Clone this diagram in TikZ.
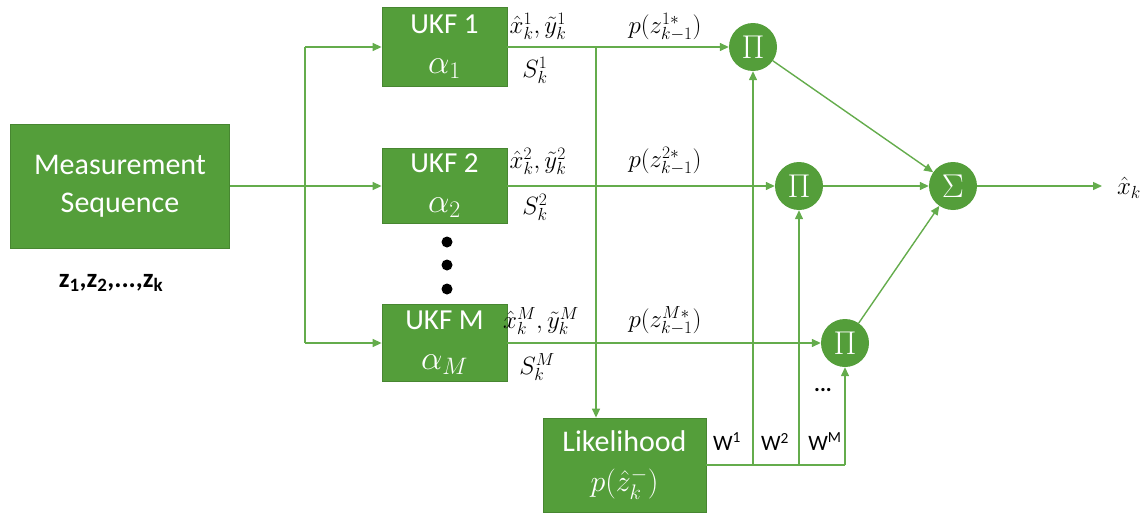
\RequirePackage{fix-cm}
\documentclass[tikz,border=0pt]{standalone}
\usepackage{fontspec}
\setmainfont{Carlito}
\usetikzlibrary{arrows.meta}
\definecolor{gbox}{RGB}{84,158,58}
\definecolor{gline}{RGB}{100,172,76}
\newcommand{\bigmath}[1]{{\fontsize{34}{40}\selectfont$#1$}}
\begin{document}
\begin{tikzpicture}[x=1pt,y=-1pt,
  box/.style={draw=gbox!85!black, line width=0.8pt, fill=gbox, text=white, inner sep=0pt, align=center},
  conn/.style={draw=gline, line width=1.4pt},
  arr/.style={conn, -{Triangle[length=9pt,width=8pt]}},
  circ/.style={circle, fill=gbox, minimum size=48pt, inner sep=0pt, text=white, font=\fontsize{33}{33}\selectfont},
  lab/.style={font=\fontsize{25}{28}\selectfont, inner sep=0pt},
  wlab/.style={font=\fontsize{22}{26}\selectfont, inner sep=0pt},
  blackdot/.style={circle, fill=black, minimum size=11pt, inner sep=0pt},
]
\useasboundingbox (0,0) rectangle (1146,514);
% boxes
\node[box, minimum width=219pt, minimum height=124pt, font=\fontsize{30}{38}\selectfont] (meas) at (120,186) {Measurement\\Sequence};
\node[box, minimum width=125pt, minimum height=79pt, font=\fontsize{29}{40}\selectfont] (ukf1) at (444.5,47) {UKF 1\\\bigmath{\alpha_1}};
\node[box, minimum width=125pt, minimum height=75pt, font=\fontsize{29}{40}\selectfont] (ukf2) at (444.5,186) {UKF 2\\\bigmath{\alpha_2}};
\node[box, minimum width=125pt, minimum height=77pt, font=\fontsize{29}{40}\selectfont] (ukfM) at (444.5,343) {UKF M\\\bigmath{\alpha_M}};
\node[box, minimum width=163pt, minimum height=94pt, font=\fontsize{30}{40}\selectfont] (lik) at (624.5,465) {Likelihood\\$p(\hat{z}_k^-)$};
% circles
\node[circ] (p1) at (753,47) {$\Pi$};
\node[circ] (p2) at (799,186) {$\Pi$};
\node[circ] (pm) at (845,343) {$\Pi$};
\node[circ] (sig) at (953,186) {$\Sigma$};
% dots
\node[blackdot] (d1) at (447,242) {};
\node[blackdot] (d2) at (447,265) {};
\node[blackdot] (d3) at (447,289) {};
% junctions
\coordinate (j0) at (305,186);
\coordinate (jt) at (305,47);
\coordinate (jb) at (305,343);
\coordinate (jl) at (596,47);
\coordinate (w) at (845,465);
\coordinate (out) at (1102,186);
% connectors
\draw[conn] (meas.east) -- (j0);
\draw[conn] (jt) -- (jb);
\draw[arr] (jt) -- (ukf1.west);
\draw[arr] (j0) -- (ukf2.west);
\draw[arr] (jb) -- (ukfM.west);
\draw[arr] (ukf1.east) -- (p1.west);
\draw[arr] (ukf2.east) -- (p2.west);
\draw[arr] (ukfM.east) -- (pm.west);
\draw[arr] (jl) -- (jl |- lik.north);
\draw[conn] (lik.east) -- (w);
\draw[arr] (p1.south |- w) -- (p1.south);
\draw[arr] (p2.south |- w) -- (p2.south);
\draw[arr] (w) -- (pm.south);
\draw[arr] (p1) -- (sig);
\draw[arr] (p2) -- (sig);
\draw[arr] (pm) -- (sig);
\draw[arr] (sig) -- (out);
% labels
\node[lab] (l1a) at (538,26) {$\hat{x}_k^1,\tilde{y}_k^1$};
\node[lab] (l1b) at (535,70) {$S_k^1$};
\node[lab] (l1c) at (665,27) {$p(z_{k-1}^{1*})$};
\node[lab] (l2a) at (538,161) {$\hat{x}_k^2,\tilde{y}_k^2$};
\node[lab] (l2b) at (535,207) {$S_k^2$};
\node[lab] (l2c) at (665,161) {$p(z_{k-1}^{2*})$};
\node[lab] (lma) at (541,321) {$\hat{x}_k^M,\tilde{y}_k^M$};
\node[lab] (lmb) at (537,367) {$S_k^M$};
\node[lab] (lmc) at (665,321) {$p(z_{k-1}^{M*})$};
\node[lab] (xk) at (1129,188) {$\hat{x}_k$};
\node[wlab] (w1) at (727,442) {W\textsuperscript{1}};
\node[wlab] (w2) at (775,442) {W\textsuperscript{2}};
\node[wlab] (wm) at (825,442) {W\textsuperscript{M}};
\node[wlab] (wd) at (823,390) {\textbf{...}};
\node[font=\bfseries\fontsize{27}{30}\selectfont, inner sep=0pt] (zs) at (111,283) {z\textsubscript{1},z\textsubscript{2},...,z\textsubscript{k}};
\end{tikzpicture}
\end{document}
